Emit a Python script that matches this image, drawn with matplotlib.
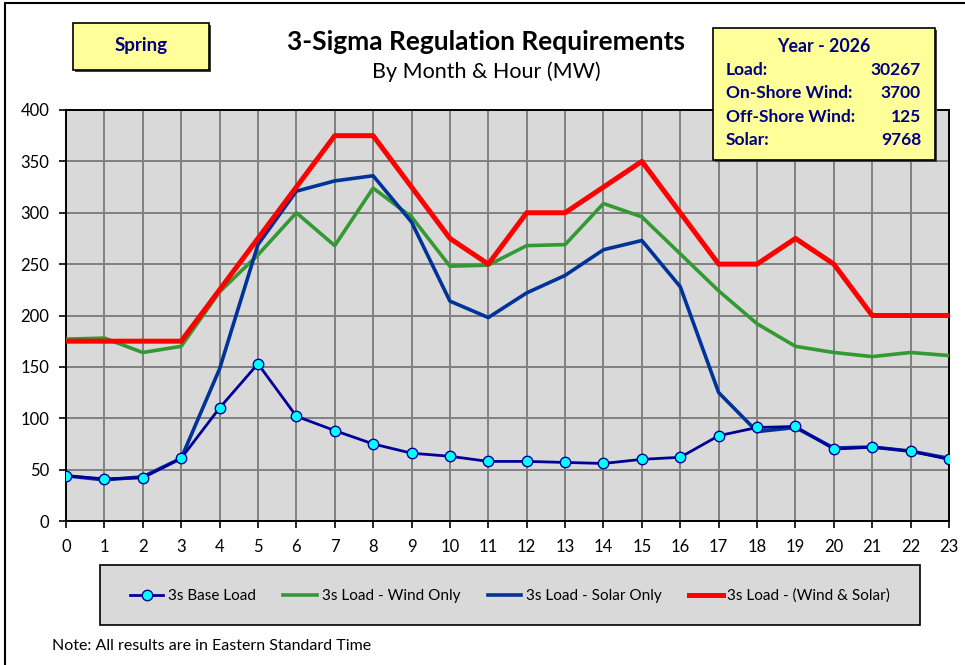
import matplotlib
matplotlib.use("Agg")
import matplotlib.pyplot as plt
from matplotlib.patches import Rectangle
from matplotlib.lines import Line2D

plt.rcParams['font.family'] = ['Lato', 'DejaVu Sans']

hours = list(range(24))
base_load = [44, 41, 42, 61, 110, 153, 102, 88, 75, 66, 63, 58,
             58, 57, 56, 60, 62, 83, 91, 92, 70, 72, 68, 60]
wind_only = [177, 178, 164, 170, 223, 259, 300, 268, 324, 296, 248, 249,
             268, 269, 309, 296, 260, 224, 192, 170, 164, 160, 164, 161]
solar_only = [44, 40, 43, 61, 148, 269, 321, 331, 336, 291, 214, 198,
              222, 239, 264, 273, 228, 125, 87, 91, 71, 72, 68, 61]
wind_solar = [175, 175, 175, 175, 225, 275, 325, 375, 375, 325, 275, 250,
              300, 300, 325, 350, 300, 250, 250, 275, 250, 200, 200, 200]

series_names = ["3s Base Load", "3s Load - Wind Only", "3s Load - Solar Only",
                "3s Load - (Wind & Solar)"]
season = "Spring"
year_label = "Year - 2026"
info_labels = ["Load:", "On-Shore Wind:", "Off-Shore Wind:", "Solar:"]
info_values = ["30267", "3700", "125", "9768"]

W, H = 965, 665
navy = "#000080"
yellow = "#ffff99"


def fx(x):
    return x / W


def fy(y):
    return 1 - y / H


fig = plt.figure(figsize=(W / 100, H / 100), dpi=100)

# outer chart border
fig.patches.append(Rectangle((fx(5), fy(672)), fx(975), fy(3) - fy(672),
                             transform=fig.transFigure, fill=False,
                             edgecolor="black", linewidth=1.5))

ax = fig.add_axes([fx(66), fy(521), fx(949) - fx(66), fy(110) - fy(521)])
ax.set_facecolor("#d9d9d9")

ax.plot(hours, wind_only, color="#339933", linewidth=2.6, zorder=3)
ax.plot(hours, solar_only, color="#003399", linewidth=2.6, zorder=4)
ax.plot(hours, wind_solar, color="#ff0000", linewidth=3.6, zorder=5)
ax.plot(hours, base_load, color="#000099", linewidth=2, marker="o",
        markersize=7.5, markerfacecolor="#00ffff", markeredgecolor="#000099",
        markeredgewidth=1, zorder=6)

ax.set_xlim(0, 23)
ax.set_ylim(0, 400)
ax.set_xticks(hours)
ax.set_yticks(range(0, 401, 50))
ax.grid(True, color="#808080", linewidth=1.4, zorder=1)
ax.set_axisbelow(True)
ax.tick_params(axis="both", direction="out", length=5, width=1.2,
               labelsize=12, color="black")
ax.tick_params(axis="x", pad=8)
ax.tick_params(axis="y", pad=7)
for sp in ax.spines.values():
    sp.set_color("black")
    sp.set_linewidth(1.4)

# titles
fig.text(fx(486), fy(42), "3-Sigma Regulation Requirements", ha="center",
         va="center", fontsize=19, fontweight="bold", color="black")
fig.text(fx(486), fy(72), "By Month & Hour (MW)", ha="center", va="center",
         fontsize=15.5, color="black")


def boxed(x0, y0, x1, y1):
    fig.patches.append(Rectangle((fx(x0 + 2), fy(y1 + 2)), fx(x1 - x0), fy(y0) - fy(y1),
                                 transform=fig.transFigure, facecolor="#404040",
                                 edgecolor="none", zorder=1))
    fig.patches.append(Rectangle((fx(x0), fy(y1)), fx(x1 - x0), fy(y0) - fy(y1),
                                 transform=fig.transFigure, facecolor=yellow,
                                 edgecolor="black", linewidth=1.2, zorder=2))


# season box
boxed(73, 23, 209, 70)
fig.text(fx(141), fy(45), season, ha="center", va="center", fontsize=13.5,
         fontweight="bold", color=navy, zorder=5)

# info box
boxed(713, 28, 935, 160)
fig.text(fx(824), fy(46), year_label, ha="center", va="center", fontsize=12.8,
         fontweight="bold", color=navy, zorder=5)
for i, (lab, val) in enumerate(zip(info_labels, info_values)):
    yy = 70 + i * 23.3
    fig.text(fx(726), fy(yy), lab, ha="left", va="center", fontsize=12.5,
             fontweight="bold", color=navy, zorder=5)
    fig.text(fx(921), fy(yy), val, ha="right", va="center", fontsize=12.5,
             fontweight="bold", color=navy, zorder=5)

# legend box
fig.patches.append(Rectangle((fx(100), fy(625)), fx(820), fy(565) - fy(625),
                             transform=fig.transFigure, facecolor="#d9d9d9",
                             edgecolor="black", linewidth=1.2))
handles = [
    Line2D([], [], color="#000099", linewidth=2, marker="o", markersize=7.5,
           markerfacecolor="#00ffff", markeredgecolor="#000099"),
    Line2D([], [], color="#339933", linewidth=2.6),
    Line2D([], [], color="#003399", linewidth=2.6),
    Line2D([], [], color="#ff0000", linewidth=3.6),
]
fig.legend(handles, series_names, loc="center", ncol=4,
           bbox_to_anchor=(fx(510), fy(596)), frameon=False, fontsize=11,
           handlelength=2.2, handletextpad=0.3, columnspacing=1.8)

fig.text(fx(52), fy(646), "Note: All results are in Eastern Standard Time",
         ha="left", va="center", fontsize=11.5, color="black")

fig.savefig("out.png", dpi=100)
